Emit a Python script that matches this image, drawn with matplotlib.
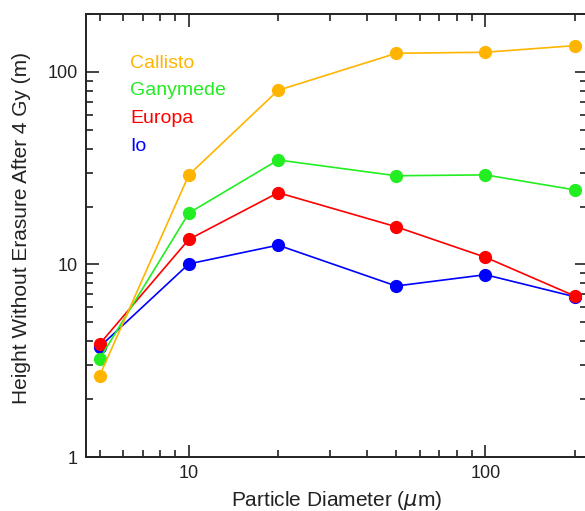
import numpy as np
import matplotlib
matplotlib.use("Agg")
import matplotlib.pyplot as plt
from matplotlib.ticker import LogLocator, NullFormatter

plt.rcParams['font.family'] = ['Liberation Sans', 'DejaVu Sans']
plt.rcParams['mathtext.fontset'] = 'dejavusans'

# particle diameters (micron)
diameters = [5, 10, 20, 50, 100, 200]

# height without erasure after 4 Gy (m)
callisto = [2.64, 29.2, 80.3, 125, 126.6, 137]
ganymede = [3.23, 18.5, 34.9, 28.9, 29.2, 24.4]
europa = [3.86, 13.5, 23.6, 15.7, 10.9, 6.86]
io = [3.73, 10.07, 12.6, 7.73, 8.85, 6.80]

moons = ['Callisto', 'Ganymede', 'Europa', 'Io']
series = [callisto, ganymede, europa, io]
colors = ['#FFB400', '#22EE22', '#FF0000', '#0000FF']

fig = plt.figure(figsize=(5.85, 5.11), dpi=100)
# axes runs slightly off the right edge like the original
ax = fig.add_axes([86 / 585, 54 / 511, (587 - 86) / 585, (457 - 14) / 511])

# draw from bottom so Io ends up under the rest
for name, vals, c in zip(moons[::-1], series[::-1], colors[::-1]):
    ax.plot(diameters, vals, color=c, lw=1.2, marker='o', ms=8.5,
            mec=c, clip_on=False)

ax.set_xscale('log')
ax.set_yscale('log')
ax.set_xlim(4.5, 220)
ax.set_ylim(1, 200)

ax.set_xticks([10, 100])
ax.set_xticklabels(['10', '100'])
ax.set_yticks([1, 10, 100])
ax.set_yticklabels(['1', '10', '100'])
ax.xaxis.set_minor_locator(LogLocator(base=10, subs=np.arange(2, 10)))
ax.yaxis.set_minor_locator(LogLocator(base=10, subs=np.arange(2, 10)))
ax.xaxis.set_minor_formatter(NullFormatter())
ax.yaxis.set_minor_formatter(NullFormatter())

ax.tick_params(which='both', direction='in', top=True, right=True,
               labelsize=13, colors='#222222', width=1.2, pad=6)
ax.tick_params(which='major', length=9)
ax.tick_params(which='minor', length=5)
for sp in ax.spines.values():
    sp.set_linewidth(1.4)
    sp.set_color('#222222')

ax.set_xlabel(r'Particle Diameter ($\mu$m)', fontsize=15, color='#222222', labelpad=5)
ax.set_ylabel('Height Without Erasure After 4 Gy (m)', fontsize=15, color='#222222')
ax.yaxis.set_label_coords(-0.11, 0.517)

# coloured names instead of a legend box
for i, (name, c) in enumerate(zip(moons, colors)):
    ax.text(0.088, 0.889 - i * 0.0625, name, color=c, fontsize=14,
            transform=ax.transAxes, va='center', ha='left')

fig.savefig('out.png', dpi=100)
